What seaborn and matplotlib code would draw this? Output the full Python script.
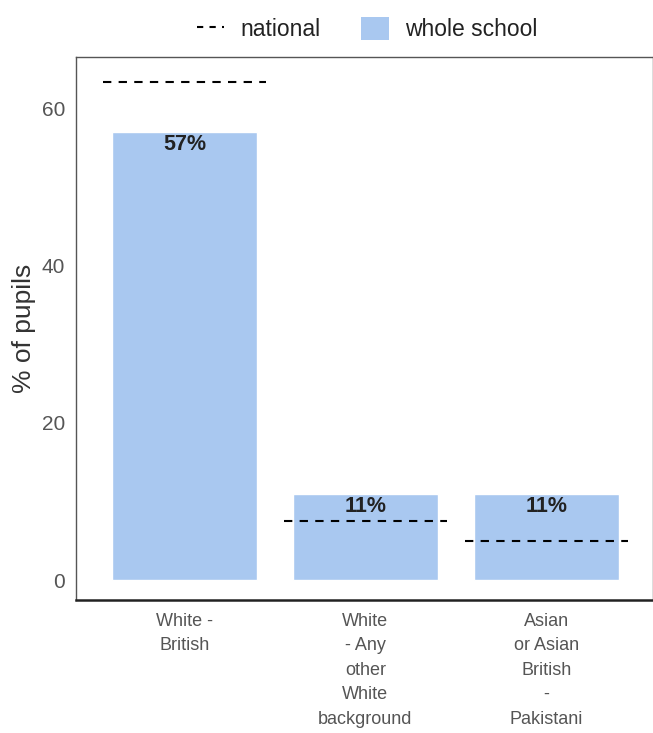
import matplotlib
matplotlib.use("Agg")
import matplotlib.pyplot as plt
import seaborn as sns
import pandas as pd
from matplotlib.lines import Line2D
from matplotlib.patches import Patch

categories = ["White - British", "White - Any other White background", "Asian or Asian British - Pakistani"]
tick_labels = ["White -\nBritish", "White\n- Any\nother\nWhite\nbackground", "Asian\nor Asian\nBritish\n-\nPakistani"]
school_pct = [57, 11, 11]
national_pct = [63.3, 7.5, 5.0]
bar_labels = ["57%", "11%", "11%"]

sns.set_style("white")
plt.rcParams["font.family"] = ["Liberation Sans", "DejaVu Sans"]

df = pd.DataFrame({"ethnicity": categories, "pct": school_pct})

fig = plt.figure(figsize=(6.53, 7.33), dpi=100)
ax = fig.add_axes([76 / 653, 1 - 600 / 733, (653 - 76) / 653, (600 - 57) / 733])

sns.barplot(data=df, x="ethnicity", y="pct", color="#a9c8f0", saturation=1, width=0.8, ax=ax)

for i, v in enumerate(national_pct):
    ax.hlines(v, i - 0.45, i + 0.45, colors="black", linestyles=(0, (4, 3.5)), linewidth=1.5)

for i, (v, lab) in enumerate(zip(school_pct, bar_labels)):
    ax.text(i, v - 0.3, lab, ha="center", va="top", fontsize=15.5, fontweight="bold", color="#222222")

ax.set_ylim(-2.5, 66.5)
ax.set_xlim(-0.6, 2.59)
ax.set_yticks([0, 20, 40, 60])
ax.set_xticks(range(len(tick_labels)))
ax.set_xticklabels(tick_labels, fontsize=13, color="#555555", linespacing=1.58)
ax.tick_params(axis="y", labelsize=15, labelcolor="#555555", length=0, pad=8)
ax.tick_params(axis="x", length=0, pad=9)
ax.set_xlabel("")
ax.set_ylabel("% of pupils", fontsize=19, color="#333333", labelpad=4)

for side in ["left", "top", "right"]:
    ax.spines[side].set_color("#555555")
    ax.spines[side].set_linewidth(1.0)
ax.spines["bottom"].set_color("#222222")
ax.spines["bottom"].set_linewidth(1.8)

handles = [
    Line2D([0], [0], color="black", linestyle=(0, (3, 3)), linewidth=1.5),
    Patch(facecolor="#a9c8f0", edgecolor="none"),
]
fig.legend(handles, ["national", "whole school"], loc="upper center", bbox_to_anchor=(0.562, 1.005),
           ncol=2, frameon=False, fontsize=16.5, handlelength=1.2, handleheight=1.2, columnspacing=1.8,
           handletextpad=0.7, labelcolor="#222222")

fig.savefig("out.png", dpi=100)
plt.close(fig)
